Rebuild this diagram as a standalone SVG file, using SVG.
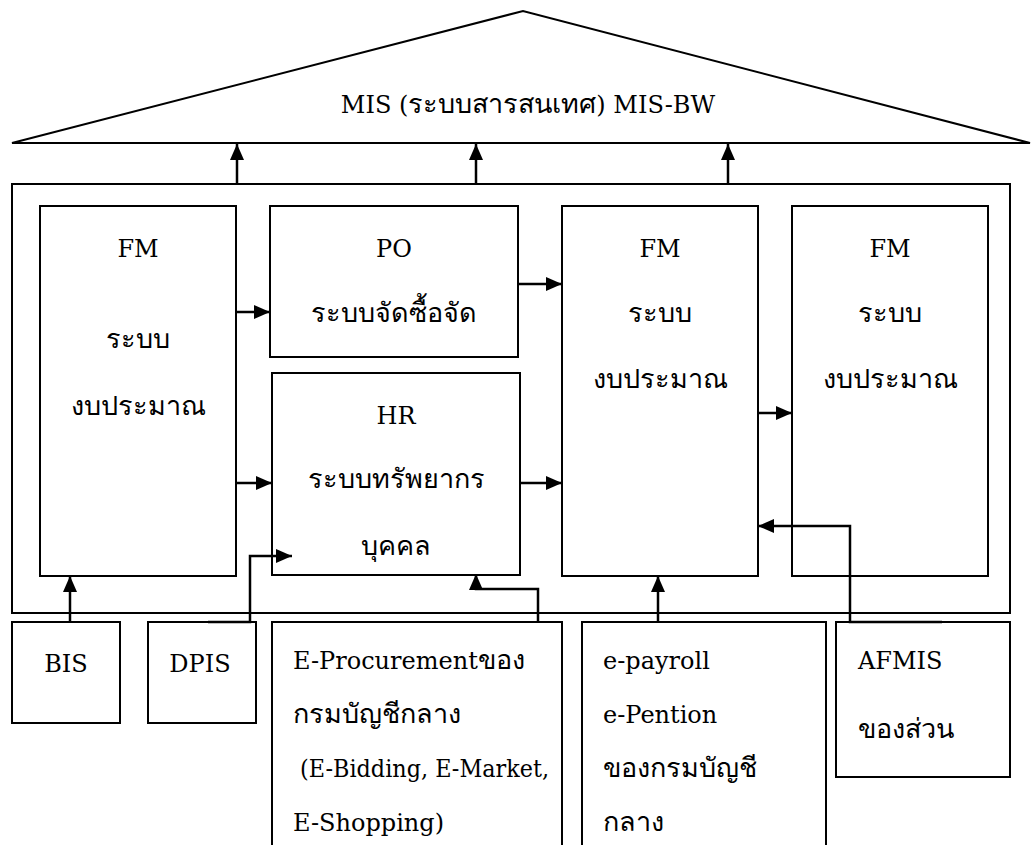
<svg xmlns="http://www.w3.org/2000/svg" width="1031" height="845" viewBox="0 0 1031 845">
<defs>
<marker id="ah" viewBox="0 0 16 14" refX="16" refY="7" markerWidth="16" markerHeight="14" markerUnits="userSpaceOnUse" orient="auto">
<path d="M0,0 L16,7 L0,14 Z" fill="#000"/>
</marker>
</defs>
<style>
.b{fill:#fff;stroke:#000;stroke-width:2}
.o{fill:none;stroke:#000;stroke-width:2}
.t{font-family:'DejaVu Serif','Liberation Serif',serif;font-size:24px;fill:#000}
.th{font-size:27px}
.c{text-anchor:middle}
.e{fill:none;stroke:#000;stroke-width:2.5;marker-end:url(#ah)}
</style>
<rect width="1031" height="845" fill="#fff"/>
<g id="mis">
<path class="o" d="M12,143 L523,11 L1030,143 Z"/>
<text class="t c" x="528" y="113">MIS (<tspan class="th">ระบบสารสนเทศ</tspan>) MIS-BW</text>
</g>
<g id="container"><rect class="b" x="12" y="184" width="998" height="429"/></g>
<g id="fm1"><rect class="b" x="40" y="206" width="196" height="370"/>
<text class="t c" x="138" y="257">FM</text><text class="t th c" x="138" y="348">ระบบ</text><text class="t th c" x="138" y="415">งบประมาณ</text></g>
<g id="po"><rect class="b" x="270" y="206" width="248" height="151"/>
<text class="t c" x="394" y="257">PO</text><text class="t th c" x="394" y="322">ระบบจัดซื้อจัด</text></g>
<g id="hr"><rect class="b" x="272" y="373" width="248" height="202"/>
<text class="t c" x="396" y="424">HR</text><text class="t th c" x="396" y="488">ระบบทรัพยากร</text><text class="t th c" x="396" y="555">บุคคล</text></g>
<g id="fm2"><rect class="b" x="562" y="206" width="196" height="370"/>
<text class="t c" x="660" y="257">FM</text><text class="t th c" x="660" y="322">ระบบ</text><text class="t th c" x="660" y="388">งบประมาณ</text></g>
<g id="fm3"><rect class="b" x="792" y="206" width="196" height="370"/>
<text class="t c" x="890" y="257">FM</text><text class="t th c" x="890" y="322">ระบบ</text><text class="t th c" x="890" y="388">งบประมาณ</text></g>
<g id="bis"><rect class="b" x="12" y="622" width="108" height="101"/><text class="t c" x="66" y="672">BIS</text></g>
<g id="dpis"><rect class="b" x="148" y="622" width="108" height="101"/><text class="t c" x="200" y="672">DPIS</text></g>
<g id="eproc"><rect class="b" x="272" y="622" width="290" height="240"/>
<text class="t" x="293" y="669">E-Procurement<tspan class="th">ของ</tspan></text><text class="t th" x="293" y="723">กรมบัญชีกลาง</text><text class="t" x="293" y="777" xml:space="preserve" textLength="256" lengthAdjust="spacingAndGlyphs"> (E-Bidding, E-Market,</text><text class="t" x="293" y="831">E-Shopping)</text></g>
<g id="epay"><rect class="b" x="582" y="622" width="244" height="240"/>
<text class="t" x="603" y="669">e-payroll</text><text class="t" x="603" y="723">e-Pention</text><text class="t th" x="603" y="777">ของกรมบัญชี</text><text class="t th" x="603" y="831">กลาง</text></g>
<g id="afmis"><rect class="b" x="836" y="622" width="174" height="155"/>
<text class="t" x="858" y="669">AFMIS</text><text class="t th" x="858" y="738">ของส่วน</text></g>
<g id="connectors">
<path class="e" d="M237,183 V144"/>
<path class="e" d="M476,183 V144"/>
<path class="e" d="M728,183 V144"/>
<path class="e" d="M236,312 H270"/>
<path class="e" d="M236,483 H272"/>
<path class="e" d="M518,284 H562"/>
<path class="e" d="M520,483 H562"/>
<path class="e" d="M758,413 H792"/>
<path class="e" d="M70,622 V576"/>
<path class="e" d="M208,622 H250 V556 H292"/>
<path class="e" d="M538,622 V589 H476 V574"/>
<path class="e" d="M658,622 V576"/>
<path class="e" d="M942,622 H850 V526 H758"/>
</g>
</svg>
